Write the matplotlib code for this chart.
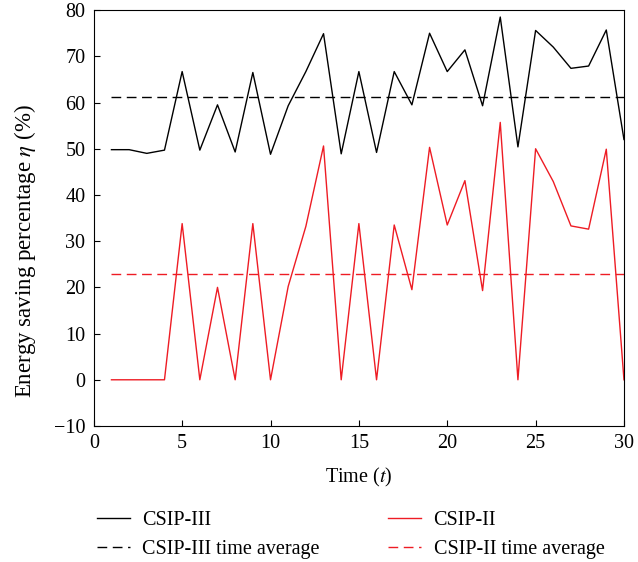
import matplotlib
matplotlib.use('Agg')
import matplotlib.pyplot as plt
import numpy as np

plt.rcParams['font.family'] = ['Liberation Serif', 'DejaVu Serif']
plt.rcParams['mathtext.fontset'] = 'stix'
plt.rcParams['xtick.direction'] = 'in'
plt.rcParams['ytick.direction'] = 'in'

# time slots
t = np.arange(1, 31)

# energy saving percentage per time slot
csip3 = [49.8, 49.8, 49.0, 49.7, 66.7, 49.7, 59.5, 49.3, 66.5, 48.8,
         59.3, 66.7, 74.9, 48.9, 66.7, 49.2, 66.7, 59.5, 75.0, 66.7,
         71.4, 59.3, 78.5, 50.4, 75.6, 72.0, 67.4, 67.9, 75.7, 52.0]
csip2 = [0.0, 0.0, 0.0, 0.0, 33.8, 0.0, 20.0, 0.0, 33.8, 0.0,
         20.2, 33.2, 50.6, 0.0, 33.8, 0.0, 33.5, 19.5, 50.3, 33.5,
         43.1, 19.3, 55.7, 0.0, 50.0, 42.9, 33.3, 32.6, 49.9, 0.0]
csip3_avg = 61.3
csip2_avg = 22.9

fs = 14.5

fig = plt.figure(figsize=(6.38, 5.62), dpi=100)
ax = fig.add_axes([0.147, 0.242, 0.831, 0.740])

ax.plot(t, csip3, color='k', lw=1.0, label='CSIP-III')
ax.plot(t, [csip3_avg] * len(t), color='k', lw=1.0, dashes=(7, 4),
        label='CSIP-III time average')
ax.plot(t, csip2, color='#ee1c24', lw=1.0, label='CSIP-II')
ax.plot(t, [csip2_avg] * len(t), color='#ee1c24', lw=1.0, dashes=(7, 4),
        label='CSIP-II time average')

ax.set_xlim(0, 30)
ax.set_ylim(-10, 80)
ax.set_xticks(np.arange(0, 31, 5))
ax.set_yticks(np.arange(-10, 81, 10))
ax.tick_params(labelsize=fs, length=4, pad=6, top=False, right=False)
ax.set_xlabel(r'Time ($t$)', fontsize=fs, labelpad=9)
ax.set_ylabel(r'Energy saving percentage $\eta$ (%)', fontsize=16.5)
ax.yaxis.set_label_coords(-0.105, 0.42)

handles, labels = ax.get_legend_handles_labels()
fig.legend(handles, labels,
           loc='center left', bbox_to_anchor=(0.152, 0.048), ncol=2,
           frameon=False, fontsize=fs, handlelength=1.65, handletextpad=0.6,
           columnspacing=3.4, labelspacing=0.45, borderpad=0, borderaxespad=0)

fig.savefig('out.png', dpi=100)
